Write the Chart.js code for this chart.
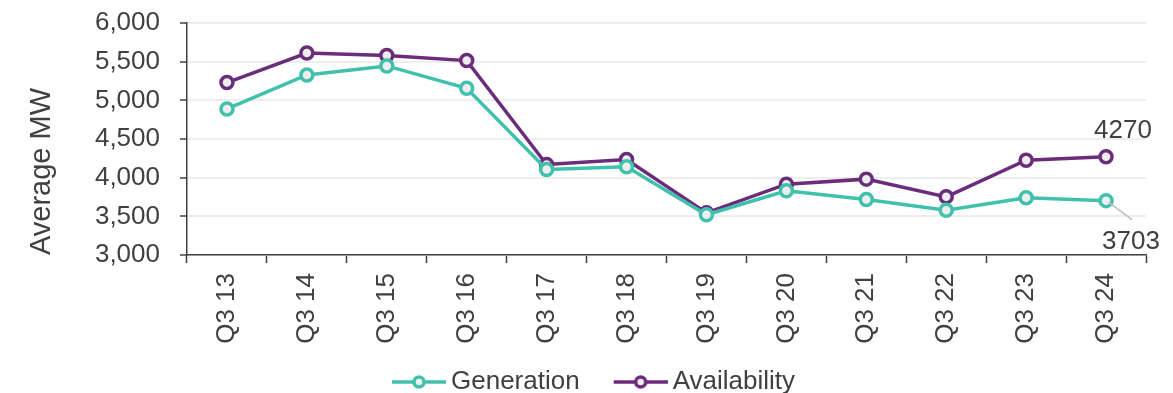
<!DOCTYPE html>
<html>
<head>
<meta charset="utf-8">
<script src="https://cdn.jsdelivr.net/npm/chart.js@4.4.1/dist/chart.umd.min.js"></script>
<style>
  html, body { margin: 0; padding: 0; background: #ffffff; }
  #wrap { width: 1173px; height: 393px; position: relative; }
</style>
</head>
<body>
<div id="wrap"><canvas id="chart"></canvas></div>
<script>
// Quarterly averages (MW)
const quarters = ['Q3 13', 'Q3 14', 'Q3 15', 'Q3 16', 'Q3 17', 'Q3 18',
                  'Q3 19', 'Q3 20', 'Q3 21', 'Q3 22', 'Q3 23', 'Q3 24'];
const generation   = [4889, 5328, 5445, 5156, 4106, 4140, 3520, 3830, 3718, 3580, 3739, 3703];
const availability = [5230, 5612, 5579, 5514, 4171, 4235, 3545, 3916, 3981, 3752, 4226, 4270];
const yTicks = [3000, 3500, 4000, 4500, 5000, 5500, 6000];

const TEAL = '#40C1AC';
const PURPLE = '#6B2C7B';
const TEXT = '#404040';
const FONT = "'Liberation Sans', Arial, sans-serif";

// legend swatch: a short line with a hollow marker, with a blank lead-in on the left
function swatch(color) {
  const L = 32;
  const c = document.createElement('canvas');
  c.width = 54 + L; c.height = 18;
  const g = c.getContext('2d');
  g.strokeStyle = color; g.lineWidth = 3.5;
  g.beginPath(); g.moveTo(L, 9); g.lineTo(L + 54, 9); g.stroke();
  g.fillStyle = '#eeeeee';
  g.beginPath(); g.arc(L + 27, 9, 5, 0, Math.PI * 2); g.fill(); g.stroke();
  return c;
}

// value labels on the final quarter
const endLabels = {
  id: 'endLabels',
  afterDatasetsDraw(chart) {
    const ctx = chart.ctx;
    const last = quarters.length - 1;
    const pa = chart.getDatasetMeta(1).data[last];
    const pg = chart.getDatasetMeta(0).data[last];
    ctx.save();
    ctx.font = '26px ' + FONT;
    ctx.fillStyle = TEXT;
    ctx.textAlign = 'center';
    ctx.textBaseline = 'middle';
    ctx.fillText(String(availability[last]), pa.x + 17, pa.y - 26);
    ctx.strokeStyle = '#bfbfbf';
    ctx.lineWidth = 1.5;
    ctx.beginPath();
    ctx.moveTo(pg.x + 3, pg.y + 2);
    ctx.lineTo(pg.x + 26, pg.y + 19);
    ctx.stroke();
    ctx.fillText(String(generation[last]), pg.x + 25, pg.y + 41);
    ctx.restore();
  }
};

const seriesStyle = color => ({
  borderColor: color,
  backgroundColor: '#eeeeee',
  borderWidth: 3.5,
  pointRadius: 6,
  pointBorderWidth: 3.5,
  pointBackgroundColor: '#eeeeee',
  pointBorderColor: color,
  pointStyle: 'circle',
  tension: 0
});

new Chart(document.getElementById('chart'), {
  type: 'line',
  data: {
    labels: quarters,
    datasets: [
      Object.assign({ label: 'Generation', data: generation }, seriesStyle(TEAL)),
      Object.assign({ label: 'Availability', data: availability }, seriesStyle(PURPLE))
    ]
  },
  options: {
    responsive: true,
    maintainAspectRatio: false,
    animation: false,
    layout: { padding: { left: 17, right: 27, top: 0, bottom: -12 } },
    plugins: {
      tooltip: { enabled: false },
      legend: {
        position: 'bottom',
        labels: {
          color: TEXT,
          font: { family: FONT, size: 26 },
          usePointStyle: true,
          pointStyleWidth: 70,
          padding: 10,
          generateLabels(chart) {
            return chart.data.datasets.map((ds, i) => ({
              text: ds.label,
              fillStyle: ds.borderColor,
              strokeStyle: ds.borderColor,
              pointStyle: swatch(ds.borderColor),
              fontColor: TEXT,
              lineWidth: 0,
              hidden: false,
              datasetIndex: i
            }));
          }
        }
      }
    },
    scales: {
      x: {
        offset: true,
        grid: {
          offset: true,
          drawOnChartArea: false,
          drawTicks: true,
          tickLength: 8,
          tickColor: TEXT,
          tickWidth: 1.5
        },
        border: { color: TEXT, width: 1.5 },
        ticks: {
          color: TEXT,
          font: { family: FONT, size: 26 },
          minRotation: 90,
          maxRotation: 90,
          padding: 10,
          autoSkip: false
        },
        afterFit(scale) { scale.height = 104; }
      },
      y: {
        min: 3000,
        max: 6000,
        afterBuildTicks(scale) { scale.ticks = yTicks.map(v => ({ value: v })); },
        grid: {
          color: '#eeeeee',
          lineWidth: 2,
          drawTicks: true,
          tickLength: 7,
          tickColor: TEXT,
          tickWidth: 1.5
        },
        border: { color: TEXT, width: 1.5 },
        ticks: {
          color: TEXT,
          font: { family: FONT, size: 26 },
          padding: 20,
          callback: v => v.toLocaleString('en-US')
        },
        title: {
          display: true,
          text: 'Average MW',
          align: 'start',
          color: TEXT,
          font: { family: FONT, size: 29 },
          padding: { top: 8, bottom: 0 }
        },
        afterFit(scale) {
          scale.width = 170;
          scale.paddingTop = 23;
          scale.paddingBottom = 0;
        }
      }
    }
  },
  plugins: [endLabels]
});
</script>
</body>
</html>
